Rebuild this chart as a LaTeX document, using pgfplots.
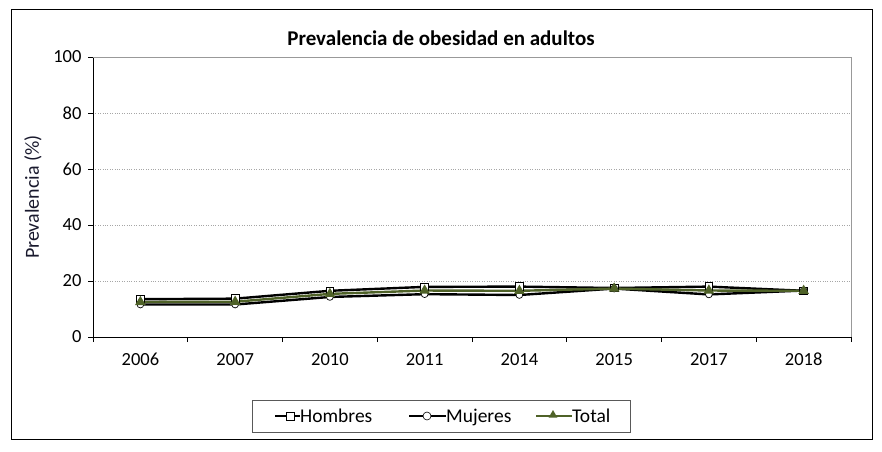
\documentclass[border=0pt]{standalone}
\usepackage{pgfplots}
\pgfplotsset{compat=1.18}
\usetikzlibrary{shapes.geometric}
\usepackage{fontspec}
\setmainfont{Carlito}
\definecolor{olive}{RGB}{79,98,40}
\begin{document}
\begin{tikzpicture}[x=1pt,y=1pt]
\useasboundingbox (0,0) rectangle (882,451);
\draw[black,line width=1pt] (11,12) rectangle (872,441);
\begin{axis}[
  at={(93pt,114pt)}, anchor=south west,
  scale only axis, width=758pt, height=280pt,
  xmin=-0.5, xmax=7.5, ymin=0, ymax=100,
  ytick={0,20,40,60,80,100},
  xtick={0,...,7},
  xticklabels={2006,2007,2010,2011,2014,2015,2017,2018},
  minor xtick={-0.5,0.5,...,7.5},
  major x tick style={draw=none},
  minor x tick style={black, line width=0.8pt},
  tick align=outside,
  minor tick length=5pt, major tick length=5pt,
  ytick style={black, line width=0.8pt},
  ymajorgrids, grid style={gray!70, dotted, line width=0.6pt},
  axis x line*=bottom, axis y line*=left,
  axis line style={black, line width=1pt},
  ticklabel style={font=\fontsize{18.5}{18.5}\selectfont},
  /pgf/number format/assume math mode=true,
  xticklabel style={text height=12pt, text depth=0pt, yshift=-8pt},
  yticklabel style={xshift=-3pt},
  clip=false,
]
\draw[gray!80, line width=1pt] (axis cs:-0.5,100) -- (axis cs:7.5,100) -- (axis cs:7.5,0);
\addplot[black, line width=2.4pt, mark=square*, mark options={fill=white, draw=black, line width=0.7pt, scale=1.9}]
  coordinates {(0,13.5) (1,13.7) (2,16.5) (3,17.9) (4,18.0) (5,17.5) (6,18.0) (7,16.5)};
\addplot[black, line width=2.4pt, mark=*, mark options={fill=white, draw=black, line width=0.7pt, scale=1.7}]
  coordinates {(0,11.6) (1,11.6) (2,14.3) (3,15.3) (4,15.0) (5,17.3) (6,15.2) (7,16.6)};
\addplot[olive, line width=2.4pt, mark=triangle*, mark options={fill=olive, draw=olive, scale=1.9}]
  coordinates {(0,12.5) (1,12.6) (2,15.4) (3,16.6) (4,16.5) (5,17.3) (6,16.6) (7,16.5)};
\end{axis}
\node[font=\fontsize{21}{21}\selectfont\bfseries] at (441,413) {Prevalencia de obesidad en adultos};
\node[font=\fontsize{20}{20}\selectfont, text={rgb,255:red,25;green,25;blue,45}, rotate=90] at (33,254) {Prevalencia (\%)};
\draw[gray!70!black, line width=0.8pt] (252,19) rectangle (630,51);
\begin{scope}[font=\fontsize{19.5}{19.5}\selectfont]
\draw[black, line width=2pt] (275,35) -- (300,35);
\node[draw=black, fill=white, line width=0.6pt, minimum size=8pt, inner sep=0pt] at (290,35) {};
\node[anchor=base west, inner sep=0pt] at (300,28.5) {Hombres};
\draw[black, line width=2pt] (409,35) -- (446,35);
\node[circle, draw=black, fill=white, line width=0.6pt, minimum size=8pt, inner sep=0pt] at (427,35) {};
\node[anchor=base west, inner sep=0pt] at (446,28.5) {Mujeres};
\draw[olive, line width=2pt] (536,35) -- (572,35);
\node[regular polygon, regular polygon sides=3, fill=olive, minimum size=10pt, inner sep=0pt] at (553,36) {};
\node[anchor=base west, inner sep=0pt] at (572,28.5) {Total};
\end{scope}
\end{tikzpicture}
\end{document}
